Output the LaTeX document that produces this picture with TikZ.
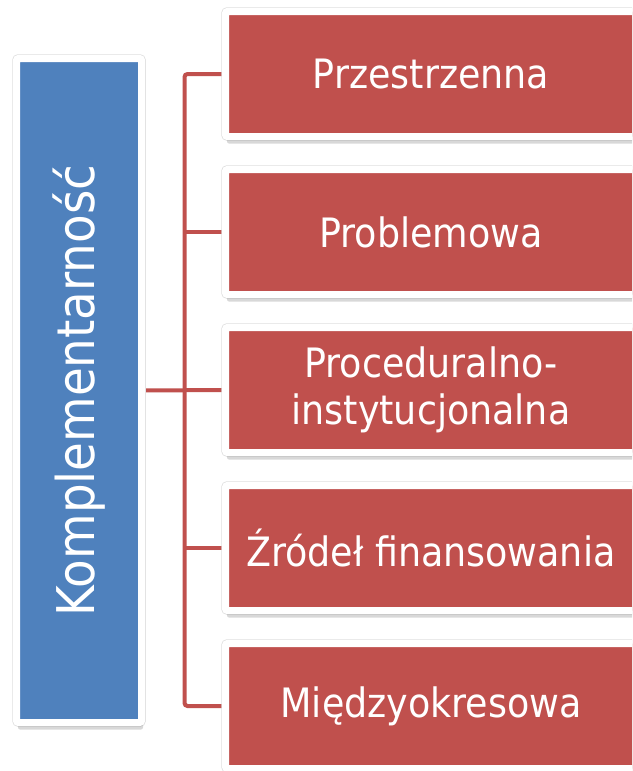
\documentclass[tikz,border=0pt]{standalone}
\usepackage{fontspec}
\setmainfont{DejaVu Sans Condensed}
\usepackage{xcolor}
\usetikzlibrary{positioning, calc, shadows, backgrounds}
\definecolor{rootblue}{RGB}{79, 129, 189}
\definecolor{leafred}{RGB}{192, 80, 77}

\begin{document}
\begin{tikzpicture}[x=1pt, y=-1pt,
    framed/.style={rectangle, draw=white, line width=7pt, rounded corners=2pt,
      inner sep=0pt, text=white, align=center,
      preaction={draw=gray!25, line width=8.5pt},
      drop shadow={shadow xshift=1.5pt, shadow yshift=-7pt, opacity=0.3, fill=gray}},
    root/.style={framed, fill=rootblue, minimum width=125pt, minimum height=664pt,
      font=\fontsize{52}{60}\selectfont},
    leaf/.style={framed, fill=leafred, minimum width=411pt, minimum height=125pt,
      font=\fontsize{40.5}{47}\selectfont},
    conn/.style={leafred, line width=4pt}]
  \useasboundingbox (0, 0) rectangle (632, 771);
  \clip (0, 0) rectangle (632, 771);

  % Main box
  \node[root] (main) at (79, 390.5) {\rotatebox{90}{Komplementarność}};

  % Branch boxes
  \foreach \txt [count=\i] in {Przestrzenna, Problemowa,
      {Proceduralno-\\instytucjonalna}, Źródeł finansowania, Międzyokresowa}
    \node[leaf] (b\i) at (431, {74+158*(\i-1)}) {\txt};

  % Connectors
  \coordinate (trunk) at (184.5, 390);
  \begin{scope}[on background layer]
    \fill[white] (0, 0) rectangle (632, 771);
    \draw[conn, rounded corners=3pt] (b1.west) -| (trunk) |- (b5.west);
    \draw[conn] (main.east) -- (b3.west);
    \draw[conn] (trunk |- b2.west) -- (b2.west);
    \draw[conn] (trunk |- b4.west) -- (b4.west);
  \end{scope}
\end{tikzpicture}
\end{document}
